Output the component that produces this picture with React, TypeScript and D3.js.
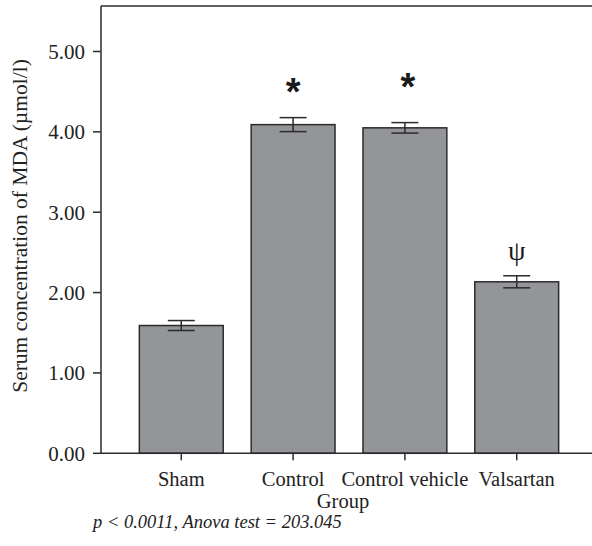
import React from "react";
import * as d3 from "d3";

const categories = ["Sham", "Control", "Control vehicle", "Valsartan"];
const meanValues = [1.59, 4.09, 4.05, 2.134];
const errorValues = [0.062, 0.087, 0.065, 0.075];
const markLabels = ["", "*", "*", "ψ"];
const markValues = [0, 4.6, 4.66, 2.4];
const yTicks = [0, 1, 2, 3, 4, 5];

const W = 592;
const H = 546;
const left = 101;
const top = 6;
const bottom = 453.3;
const yMax = 5.566;

export default function App() {
  const x = d3
    .scaleBand<string>()
    .domain(categories)
    .range([left, 597])
    .paddingInner(0.25)
    .paddingOuter(0.343);
  const y = d3.scaleLinear().domain([0, yMax]).range([bottom, top]);
  const bw = x.bandwidth();
  const ink = "#2b2b2b";
  const serif = "'Liberation Serif', 'Times New Roman', serif";

  return (
    <div style={{ position: "absolute", left: 0, top: 0 }}>
      <svg width={W} height={H} style={{ display: "block", background: "#fff" }}>
        {categories.map((c, i) => (
          <rect
            key={c}
            x={x(c)}
            y={y(meanValues[i])}
            width={bw}
            height={y(0) - y(meanValues[i])}
            fill="#939598"
            stroke={ink}
            strokeWidth={1.5}
          />
        ))}
        {categories.map((c, i) => {
          const cx = (x(c) as number) + bw / 2;
          const hi = y(meanValues[i] + errorValues[i]);
          const lo = y(meanValues[i] - errorValues[i]);
          return (
            <g key={c + "e"} stroke={ink} strokeWidth={1.5}>
              <line x1={cx} x2={cx} y1={hi} y2={lo} />
              <line x1={cx - 13.5} x2={cx + 13.5} y1={hi} y2={hi} />
              <line x1={cx - 13.5} x2={cx + 13.5} y1={lo} y2={lo} />
            </g>
          );
        })}
        {categories.map((c, i) => {
          if (!markLabels[i]) return null;
          const cx = (x(c) as number) + bw / 2;
          const isStar = markLabels[i] === "*";
          return (
            <text
              key={c + "m"}
              x={cx + (isStar && i === 2 ? 3 : 0)}
              y={y(markValues[i]) + (isStar ? 21 : 0)}
              textAnchor="middle"
              fontFamily={isStar ? "'Liberation Sans', Arial, sans-serif" : serif}
              fontWeight={isStar ? "bold" : "normal"}
              fontSize={isStar ? 38 : 28}
              fill="#1a1a1a"
            >
              {markLabels[i]}
            </text>
          );
        })}
        <g stroke={ink} strokeWidth={1.5} fill="none">
          <line x1={left} x2={W} y1={top} y2={top} />
          <line x1={left} x2={left} y1={top} y2={bottom} />
          <line x1={left} x2={W} y1={bottom} y2={bottom} />
        </g>
        {yTicks.map((t) => (
          <g key={t}>
            <line x1={left - 8} x2={left} y1={y(t)} y2={y(t)} stroke={ink} strokeWidth={1.5} />
            <text
              x={85}
              y={y(t)}
              dy="0.35em"
              textAnchor="end"
              fontFamily={serif}
              fontSize={21}
              fill="#222"
            >
              {d3.format(".2f")(t)}
            </text>
          </g>
        ))}
        {categories.map((c) => {
          const cx = (x(c) as number) + bw / 2;
          return (
            <g key={c + "t"}>
              <line x1={cx} x2={cx} y1={bottom} y2={bottom + 7} stroke={ink} strokeWidth={1.5} />
              <text
                x={cx}
                y={486}
                textAnchor="middle"
                fontFamily={serif}
                fontSize={20.5}
                fill="#222"
              >
                {c}
              </text>
            </g>
          );
        })}
        <text x={343} y={508} textAnchor="middle" fontFamily={serif} fontSize={20.5} fill="#222">
          Group
        </text>
        <text
          transform={`translate(27,${226}) rotate(-90)`}
          textAnchor="middle"
          fontFamily={serif}
          fontSize={21.5}
          fill="#222"
        >
          Serum concentration of MDA (µmol/l)
        </text>
        <text x={93} y={528} fontFamily={serif} fontStyle="italic" fontSize={18.5} fill="#222">
          p &lt; 0.0011, Anova test = 203.045
        </text>
      </svg>
    </div>
  );
}
